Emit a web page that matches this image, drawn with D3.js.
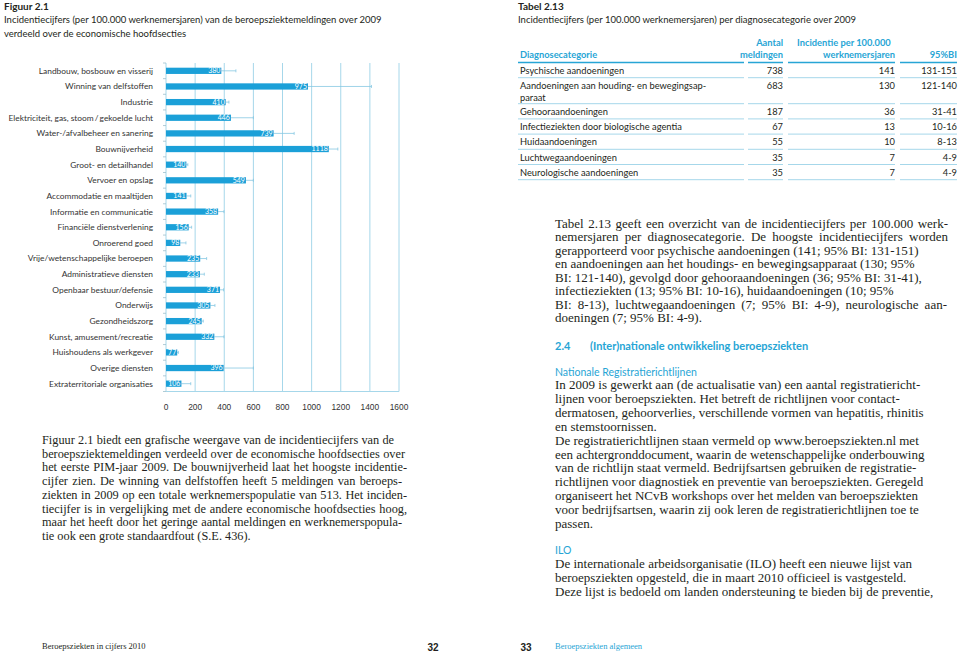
<!DOCTYPE html>
<html lang="nl">
<head>
<meta charset="UTF-8">
<title>Beroepsziekten in cijfers 2010</title>
<script src="https://cdn.jsdelivr.net/npm/d3@7"></script>
<style>
    html, body {
        margin: 0;
        padding: 0;
        background: #fff;
    }

    #page {
        position: relative;
        width: 960px;
        height: 652px;
        overflow: hidden;
    }

    svg {
        position: absolute;
        left: 0;
        top: 0;
    }

    .line {
        position: absolute;
        white-space: nowrap;
        font-family: "Liberation Serif", serif;
        font-size: 12.3px;
        color: #231f20;
        line-height: 14px;
    }

    .line.r {
        font-size: 13px;
    }
</style>
</head>
<body>
<div id="page"></div>
<script>
    // figuur 2.1
    const sectors = ["Landbouw, bosbouw en visserij", "Winning van delfstoffen", "Industrie",
        "Elektriciteit, gas, stoom\u2009/\u2009gekoelde lucht", "Water-/afvalbeheer en sanering", "Bouwnijverheid",
        "Groot- en detailhandel", "Vervoer en opslag", "Accommodatie en maaltijden", "Informatie en communicatie",
        "Financiële dienstverlening", "Onroerend goed", "Vrije/wetenschappelijke beroepen",
        "Administratieve diensten", "Openbaar bestuur/defensie", "Onderwijs", "Gezondheidszorg",
        "Kunst, amusement/recreatie", "Huishoudens als werkgever", "Overige diensten",
        "Extraterritoriale organisaties"];
    const incidence = [380, 975, 410, 446, 739, 1118, 140, 549, 141, 358, 156, 98, 235, 233, 371, 305, 245, 332, 77, 396, 106];
    const upperCI = [480, 1411, 432, 600, 880, 1180, 150, 600, 170, 398, 176, 137, 279, 263, 395, 336, 256, 398, 85, 600, 170];
    const xTicks = [0, 200, 400, 600, 800, 1000, 1200, 1400, 1600];

    // tabel 2.13
    const diagnoses = [["Psychische aandoeningen"], ["Aandoeningen aan houding- en bewegingsap-", "paraat"],
        ["Gehooraandoeningen"], ["Infectieziekten door biologische agentia"], ["Huidaandoeningen"],
        ["Luchtwegaandoeningen"], ["Neurologische aandoeningen"]];
    const meldingen = [738, 683, 187, 67, 55, 35, 35];
    const incidentie = [141, 130, 36, 13, 10, 7, 7];
    const bi = ["131-151", "121-140", "31-41", "10-16", "8-13", "4-9", "4-9"];

    let blue = "#1ba0d8", head = "#27a5d5", grid = "#a6d7ea", ink = "#231f20";
    let sans = "Lato, 'Open Sans', sans-serif";

    let page = d3.select("#page");
    let svg = page.append("svg").attr("width", 960).attr("height", 652);

    function t(x, y, s, size, opt) {
        opt = opt || {};
        return svg.append("text")
            .attr("x", x).attr("y", y).attr("dy", "0.35em")
            .attr("text-anchor", opt.anchor || "start")
            .style("font-family", opt.font || sans)
            .style("font-size", size + "px")
            .style("font-weight", opt.weight || 400)
            .attr("fill", opt.fill || ink)
            .text(s);
    }

    // headings
    t(4, 6, "Figuur 2.1", 10, {weight: 700});
    t(4, 20, "Incidentiecijfers (per 100.000 werknemersjaren) van de beroepsziektemeldingen over 2009", 9.5);
    t(4, 34, "verdeeld over de economische hoofdsecties", 9.5);
    t(518, 6, "Tabel 2.13", 10, {weight: 700});
    t(518, 20, "Incidentiecijfers (per 100.000 werknemersjaren) per diagnosecategorie over 2009", 9.5);

    // ---- chart
    let x = d3.scaleLinear().domain([0, 1600]).range([166, 399]);
    let y = d3.scaleBand().domain(sectors).range([63, 391.5]).paddingInner(0.6).paddingOuter(0.3);
    let yTop = 63, yBot = 391.5;

    let chart = svg.append("g");

    chart.selectAll("line.grid").data(xTicks).enter().append("line")
        .attr("x1", d => x(d)).attr("x2", d => x(d))
        .attr("y1", yTop).attr("y2", yBot)
        .attr("stroke", grid).attr("stroke-width", 1);
    chart.append("line")
        .attr("x1", x(0)).attr("x2", x(1600)).attr("y1", yBot).attr("y2", yBot)
        .attr("stroke", grid);

    // ticks between the rows
    let bounds = sectors.map(s => y(s) - y.step() * 0.3).concat([yBot]);
    chart.selectAll("line.tk").data(bounds).enter().append("line")
        .attr("x1", x(0) - 3).attr("x2", x(0))
        .attr("y1", d => d).attr("y2", d => d)
        .attr("stroke", "#9cbfcc").attr("stroke-width", 0.8);

    let row = chart.selectAll("g.row").data(sectors).enter().append("g").attr("class", "row");

    row.append("line")
        .attr("x1", (d, i) => x(incidence[i])).attr("x2", (d, i) => x(upperCI[i]))
        .attr("y1", d => y(d) + y.bandwidth() / 2).attr("y2", d => y(d) + y.bandwidth() / 2)
        .attr("stroke", "#86c8e2").attr("stroke-width", 0.8);
    row.append("line")
        .attr("x1", (d, i) => x(upperCI[i])).attr("x2", (d, i) => x(upperCI[i]))
        .attr("y1", d => y(d) + y.bandwidth() / 2 - 1.5).attr("y2", d => y(d) + y.bandwidth() / 2 + 1.5)
        .attr("stroke", "#86c8e2").attr("stroke-width", 0.8);

    row.append("rect")
        .attr("x", x(0)).attr("y", d => y(d))
        .attr("width", (d, i) => x(incidence[i]) - x(0))
        .attr("height", y.bandwidth())
        .attr("fill", blue);

    row.append("text")
        .attr("x", (d, i) => x(incidence[i]) - 1)
        .attr("y", d => y(d) + y.bandwidth() / 2).attr("dy", "0.35em")
        .attr("text-anchor", "end")
        .style("font-family", sans).style("font-size", "7px")
        .attr("fill", "#fff")
        .text((d, i) => incidence[i]);

    row.append("text")
        .attr("x", 153)
        .attr("y", d => y(d) + y.bandwidth() / 2).attr("dy", "0.35em")
        .attr("text-anchor", "end")
        .style("font-family", sans).style("font-size", "8.4px")
        .attr("fill", "#333")
        .text(d => d);

    chart.selectAll("text.xt").data(xTicks).enter().append("text")
        .attr("x", d => x(d)).attr("y", 407).attr("dy", "0.35em")
        .attr("text-anchor", "middle")
        .style("font-family", "'Liberation Sans', Arial, sans-serif").style("font-size", "8.4px")
        .attr("fill", "#333")
        .text(d => d);

    // ---- table
    let cols = [{l: 518, r: 744}, {l: 748, r: 783}, {l: 788, r: 895}, {l: 900, r: 957}];
    let fs = 9.3;
    t(520, 55, "Diagnosecategorie", fs, {weight: 700, fill: head});
    t(783, 43, "Aantal", fs, {weight: 700, fill: head, anchor: "end"});
    t(783, 55, "meldingen", fs, {weight: 700, fill: head, anchor: "end"});
    t(797, 43, "Incidentie per 100.000", fs, {weight: 700, fill: head});
    t(895, 55, "werknemersjaren", fs, {weight: 700, fill: head, anchor: "end"});
    t(957, 55, "95%BI", fs, {weight: 700, fill: head, anchor: "end"});

    cols.forEach(c => {
        svg.append("line").attr("x1", c.l).attr("x2", c.r).attr("y1", 62.5).attr("y2", 62.5)
            .attr("stroke", head).attr("stroke-width", 1.3);
    });

    let ty = 62.5;
    diagnoses.forEach((lines, i) => {
        let h = lines.length > 1 ? 26 : 15.2;
        lines.forEach((s, j) => t(520, ty + 8 + j * 12, s, fs));
        t(cols[1].r, ty + 8, meldingen[i], fs, {anchor: "end"});
        t(cols[2].r, ty + 8, incidentie[i], fs, {anchor: "end"});
        t(cols[3].r, ty + 8, bi[i], fs, {anchor: "end"});
        ty += h;
        cols.forEach(c => {
            svg.append("line").attr("x1", c.l).attr("x2", c.r).attr("y1", ty).attr("y2", ty)
                .attr("stroke", grid).attr("stroke-width", 1);
        });
    });

    // ---- running text; w[i] = width a line is set to, 0 = ragged
    function para(x0, y0, lh, lines, w, cls) {
        lines.forEach((s, i) => {
            let d = page.append("div").attr("class", "line " + (cls || ""))
                .style("left", x0 + "px").style("top", (y0 + i * lh - 7) + "px")
                .text(s);
            if (w[i]) {
                let nat = d.node().getBoundingClientRect().width;
                let gaps = s.split(" ").length - 1;
                if (gaps > 0) d.style("word-spacing", ((w[i] - nat) / gaps) + "px");
            }
        });
    }

    para(42, 440, 13.7, [
        "Figuur 2.1 biedt een grafische weergave van de incidentiecijfers van de",
        "beroepsziektemeldingen verdeeld over de economische hoofdsecties over",
        "het eerste PIM-jaar 2009. De bouwnijverheid laat het hoogste incidentie-",
        "cijfer zien. De winning van delfstoffen heeft 5 meldingen van beroeps-",
        "ziekten in 2009 op een totale werknemerspopulatie van 513. Het inciden-",
        "tiecijfer is in vergelijking met de andere economische hoofdsecties hoog,",
        "maar het heeft door het geringe aantal meldingen en werknemerspopula-",
        "tie ook een grote standaardfout (S.E. 436)."
    ], [352, 363, 365, 360, 365, 365, 360, 0]);

    para(555, 224, 13.43, [
        "Tabel 2.13 geeft een overzicht van de incidentiecijfers per 100.000 werk-",
        "nemersjaren per diagnosecategorie. De hoogste incidentiecijfers worden",
        "gerapporteerd voor psychische aandoeningen (141; 95% BI: 131-151)",
        "en aandoeningen aan het houdings- en bewegingsapparaat (130; 95%",
        "BI: 121-140), gevolgd door gehooraandoeningen (36; 95% BI: 31-41),",
        "infectieziekten (13; 95% BI: 10-16), huidaandoeningen (10; 95%",
        "BI: 8-13), luchtwegaandoeningen (7; 95% BI: 4-9), neurologische aan-",
        "doeningen (7; 95% BI: 4-9)."
    ], [393, 393, 0, 0, 0, 0, 392, 0], "r");

    t(555, 346, "2.4", 11, {weight: 700, fill: head});
    t(590, 346, "(Inter)nationale ontwikkeling beroepsziekten", 11, {weight: 700, fill: head});
    t(555, 372, "Nationale Registratierichtlijnen", 10.5, {fill: head});

    para(555, 385, 13.9, [
        "In 2009 is gewerkt aan (de actualisatie van) een aantal registratiericht-",
        "lijnen voor beroepsziekten. Het betreft de richtlijnen voor contact-",
        "dermatosen, gehoorverlies, verschillende vormen van hepatitis, rhinitis",
        "en stemstoornissen.",
        "De registratierichtlijnen staan vermeld op www.beroepsziekten.nl met",
        "een achtergronddocument, waarin de wetenschappelijke onderbouwing",
        "van de richtlijn staat vermeld. Bedrijfsartsen gebruiken de registratie-",
        "richtlijnen voor diagnostiek en preventie van beroepsziekten. Geregeld",
        "organiseert het NCvB workshops over het melden van beroepsziekten",
        "voor bedrijfsartsen, waarin zij ook leren de registratierichtlijnen toe te",
        "passen."
    ], [], "r");

    t(555, 550, "ILO", 10.5, {fill: head});
    para(555, 564, 13.9, [
        "De internationale arbeidsorganisatie (ILO) heeft een nieuwe lijst van",
        "beroepsziekten opgesteld, die in maart 2010 officieel is vastgesteld.",
        "Deze lijst is bedoeld om landen ondersteuning te bieden bij de preventie,"
    ], [], "r");

    // footer
    t(42, 646, "Beroepsziekten in cijfers 2010", 8.5, {font: "'Liberation Serif', serif"});
    t(433, 647, "32", 10, {anchor: "middle", weight: 700, font: "'Liberation Sans', sans-serif"});
    t(526, 647, "33", 10, {anchor: "middle", weight: 700, font: "'Liberation Sans', sans-serif"});
    t(555, 646, "Beroepsziekten algemeen", 8.5, {font: "'Liberation Serif', serif", fill: head});
</script>
</body>
</html>
